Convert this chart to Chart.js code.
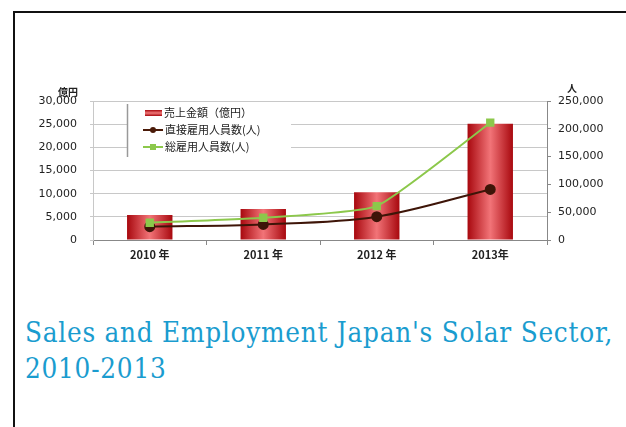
<!DOCTYPE html>
<html>
<head>
<meta charset="utf-8">
<script src="https://cdn.jsdelivr.net/npm/chart.js@4"></script>
<style>
  html, body { margin: 0; padding: 0; background: #fff; }
  body { width: 626px; height: 427px; position: relative; overflow: hidden; }
  .frame { position: absolute; left: 13px; top: 11px; width: 620px; height: 430px;
           border-left: 2px solid #111; border-top: 2px solid #111; }
  #wrap { position: absolute; left: 0; top: 0; width: 626px; height: 270px; }
  .title { position: absolute; left: 25px; top: 315px; width: 600px;
           font-family: "DejaVu Serif Condensed", "DejaVu Serif", serif; font-stretch: condensed;
           font-size: 27.6px; line-height: 36px; letter-spacing: 0.75px; color: #1a9ccf; }
</style>
</head>
<body>
<div class="frame"></div>
<div id="wrap"><canvas id="chart"></canvas></div>
<div class="title">Sales and Employment Japan's Solar Sector,<br>2010-2013</div>
<script>
  // datos
  const years = ["2010 年", "2011 年", "2012 年", "2013年"];
  const salesLabel = "売上金額（億円）";
  const directLabel = "直接雇用人員数(人)";
  const totalLabel = "総雇用人員数(人)";
  const sales = [5400, 6700, 10300, 25100];
  const directJobs = [24000, 28000, 42000, 91000];
  const totalJobs = [31000, 40000, 61000, 211000];
  const leftTicks = [0, 5000, 10000, 15000, 20000, 25000, 30000];
  const rightTicks = [0, 50000, 100000, 150000, 200000, 250000];

  const tickFont = { family: "DejaVu Sans", size: 11 };

  function barFill(context) {
    const chart = context.chart;
    const area = chart.chartArea;
    if (!area) return "#c0161c";
    const x = chart.scales.x.getPixelForValue(context.dataIndex);
    const w = (area.right - area.left) / years.length * 0.4;
    const g = chart.ctx.createLinearGradient(x - w / 2, 0, x + w / 2, 0);
    g.addColorStop(0, "#a8080e");
    g.addColorStop(0.5, "#f27478");
    g.addColorStop(1, "#a8080e");
    return g;
  }

  // leyenda dentro del area y titulos de ejes
  const extras = {
    id: "extras",
    afterDatasetsDraw(chart) {
      const ctx = chart.ctx;
      ctx.save();
      ctx.fillStyle = "#fff";
      ctx.fillRect(127, 103, 164, 54);
      ctx.strokeStyle = "#999";
      ctx.lineWidth = 1.5;
      ctx.beginPath();
      ctx.moveTo(127.5, 104);
      ctx.lineTo(127.5, 157);
      ctx.stroke();

      ctx.font = "11px 'Noto Sans CJK JP'";
      ctx.textBaseline = "middle";
      ctx.fillStyle = "#222";
      const rows = [113, 130, 147];
      // barra
      const g = ctx.createLinearGradient(0, rows[0] - 3, 0, rows[0] + 3);
      g.addColorStop(0, "#a8080e");
      g.addColorStop(0.5, "#f07a7a");
      g.addColorStop(1, "#a8080e");
      ctx.fillStyle = g;
      ctx.fillRect(145, rows[0] - 3, 17, 6);
      // linea marron
      ctx.strokeStyle = "#4a1a08";
      ctx.lineWidth = 2;
      ctx.beginPath(); ctx.moveTo(143, rows[1]); ctx.lineTo(163, rows[1]); ctx.stroke();
      ctx.fillStyle = "#4a1a08";
      ctx.beginPath(); ctx.arc(153, rows[1], 3, 0, Math.PI * 2); ctx.fill();
      // linea verde
      ctx.strokeStyle = "#8cc84b";
      ctx.beginPath(); ctx.moveTo(143, rows[2]); ctx.lineTo(163, rows[2]); ctx.stroke();
      ctx.fillStyle = "#8cc84b";
      ctx.fillRect(150, rows[2] - 3, 6, 6);

      ctx.fillStyle = "#222";
      ctx.textAlign = "left";
      ctx.fillText(salesLabel, 164, rows[0]);
      ctx.fillText(directLabel, 165, rows[1]);
      ctx.fillText(totalLabel, 165, rows[2]);

      ctx.font = "bold 10px 'Noto Sans CJK JP'";
      ctx.textAlign = "center";
      ctx.fillText("億円", 68, 92);
      ctx.fillText("人", 572, 88);
      ctx.restore();
    }
  };

  document.addEventListener("DOMContentLoaded", () => {
    const ctx = document.getElementById("chart").getContext("2d");
    new Chart(ctx, {
      type: "bar",
      data: {
        labels: years,
        datasets: [
          {
            type: "line",
            label: totalLabel,
            data: totalJobs,
            yAxisID: "y2",
            borderColor: "#8cc84b",
            backgroundColor: "#8cc84b",
            borderWidth: 2,
            pointStyle: "rect",
            pointRadius: 4.5,
            tension: 0.15,
            order: 1
          },
          {
            type: "line",
            label: directLabel,
            data: directJobs,
            yAxisID: "y2",
            borderColor: "#3e1508",
            backgroundColor: "#3e1508",
            borderWidth: 2,
            pointRadius: 4.5,
            cubicInterpolationMode: "monotone",
            order: 2
          },
          {
            label: salesLabel,
            data: sales,
            yAxisID: "y",
            backgroundColor: barFill,
            barPercentage: 0.5,
            categoryPercentage: 0.8,
            order: 3
          }
        ]
      },
      options: {
        responsive: true,
        maintainAspectRatio: false,
        animation: false,
        layout: { padding: { top: 101, left: 0, right: 0, bottom: 0 } },
        plugins: { legend: { display: false }, tooltip: { enabled: false } },
        scales: {
          x: {
            grid: { display: true, drawOnChartArea: false, offset: true, color: "#888", tickLength: 5 },
            border: { color: "#888" },
            ticks: { color: "#222", font: { family: "Noto Sans CJK JP", size: 11, weight: "bold" }, padding: 3 },
            afterFit(s) { s.height = 30; }
          },
          y: {
            position: "left",
            min: 0, max: 30000,
            afterBuildTicks(s) { s.ticks = leftTicks.map(v => ({ value: v })); },
            grid: { color: "#c8c8c8", tickLength: 3 },
            border: { color: "#c8c8c8" },
            ticks: { color: "#222", font: tickFont, padding: 13,
                     callback: v => v.toLocaleString("en-US") },
            afterFit(s) { s.width = 93; }
          },
          y2: {
            position: "right",
            min: 0, max: 250000,
            afterBuildTicks(s) { s.ticks = rightTicks.map(v => ({ value: v })); },
            grid: { drawOnChartArea: false, color: "#888", tickLength: 4 },
            border: { color: "#888" },
            ticks: { color: "#222", font: tickFont, padding: 7,
                     callback: v => v.toLocaleString("en-US") },
            afterFit(s) { s.width = 79; }
          }
        }
      },
      plugins: [extras]
    });
  });
</script>
</body>
</html>
